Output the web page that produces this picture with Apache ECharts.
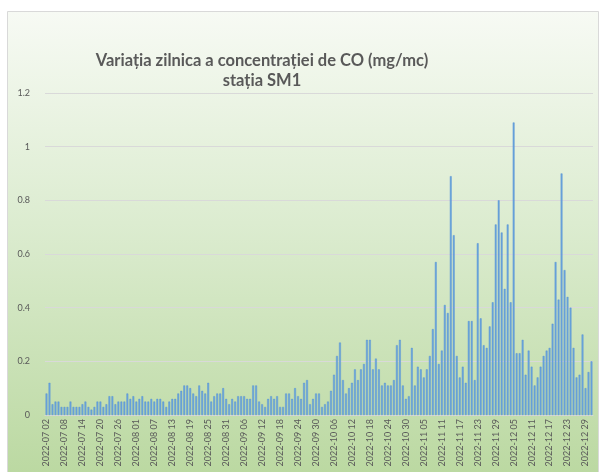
<!DOCTYPE html>
<html>
<head>
<meta charset="utf-8">
<script src="https://cdn.jsdelivr.net/npm/echarts@6/dist/echarts.min.js"></script>
<style>
    html, body {margin: 0; padding: 0; background: #fff;}
    #chartDiv {width: 603px; height: 472px;}
</style>
</head>
<body>
<div id="chartDiv"></div>
<script>
// valori zilnice CO (mg/mc), pe luni
var valJul = [0.08, 0.12, 0.04, 0.05, 0.05, 0.03, 0.03, 0.03, 0.05, 0.03, 0.03, 0.03, 0.04, 0.05, 0.03,
    0.02, 0.03, 0.05, 0.05, 0.03, 0.04, 0.07, 0.07, 0.04, 0.05, 0.05, 0.05, 0.08, 0.06, 0.07];
var valAug = [0.05, 0.06, 0.07, 0.05, 0.05, 0.06, 0.05, 0.06, 0.06, 0.05, 0.03, 0.05, 0.06, 0.06, 0.08,
    0.09, 0.11, 0.11, 0.10, 0.08, 0.07, 0.11, 0.09, 0.08, 0.12, 0.05, 0.07, 0.08, 0.08, 0.10, 0.06];
var valSep = [0.04, 0.06, 0.05, 0.07, 0.07, 0.07, 0.06, 0.06, 0.11, 0.11, 0.05, 0.04, 0.03, 0.06, 0.07,
    0.06, 0.07, 0.03, 0.03, 0.08, 0.08, 0.06, 0.10, 0.07, 0.06, 0.12, 0.13, 0.04, 0.06, 0.08];
var valOct = [0.08, 0.03, 0.04, 0.05, 0.09, 0.15, 0.22, 0.27, 0.13, 0.08, 0.10, 0.12, 0.17, 0.13, 0.17,
    0.19, 0.28, 0.28, 0.17, 0.21, 0.17, 0.11, 0.12, 0.11, 0.11, 0.13, 0.26, 0.28, 0.11, 0.06, 0.07];
var valNov = [0.25, 0.11, 0.18, 0.17, 0.14, 0.17, 0.22, 0.32, 0.57, 0.19, 0.24, 0.41, 0.38, 0.89, 0.67,
    0.22, 0.14, 0.18, 0.12, 0.35, 0.35, 0.13, 0.64, 0.36, 0.26, 0.25, 0.33, 0.42, 0.71, 0.80];
var valDec = [0.68, 0.47, 0.71, 0.42, 1.09, 0.23, 0.23, 0.28, 0.15, 0.24, 0.18, 0.11, 0.14, 0.18, 0.22,
    0.24, 0.25, 0.34, 0.57, 0.43, 0.90, 0.54, 0.44, 0.40, 0.25, 0.14, 0.15, 0.30, 0.10, 0.16, 0.20];
var yTicks = [0, 0.2, 0.4, 0.6, 0.8, 1, 1.2];

var values = [].concat(valJul, valAug, valSep, valOct, valNov, valDec);

// etichete zile 2022-07-02 ... 2022-12-31
function buildDays(n) {
    var days = [];
    var d = new Date(Date.UTC(2022, 6, 2));
    for (var i = 0; i < n; i++) {
        var m = ('0' + (d.getUTCMonth() + 1)).slice(-2);
        var z = ('0' + d.getUTCDate()).slice(-2);
        days.push(d.getUTCFullYear() + '-' + m + ' ' + z);
        d.setUTCDate(d.getUTCDate() + 1);
    }
    return days;
}
var days = buildDays(values.length);

var chartDiv = echarts.init(document.getElementById('chartDiv'));
var option = {
    animation: false,
    backgroundColor: '#ffffff',
    graphic: [{
        type: 'rect',
        z: -10,
        shape: {x: 7.5, y: 11.5, width: 591, height: 470},
        style: {
            fill: new echarts.graphic.LinearGradient(0, 0, 0, 1, [
                {offset: 0, color: '#f7faf4'},
                {offset: 0.45, color: '#dcecd0'},
                {offset: 1, color: '#bad8a0'}
            ]),
            stroke: '#d9d9d9',
            lineWidth: 1
        }
    }],
    title: {
        text: 'Variația zilnica a concentrației de CO (mg/mc)\nstația SM1',
        left: 257,
        top: 46,
        textAlign: 'center',
        textStyle: {
            fontFamily: 'Lato',
            fontWeight: 'bold',
            fontSize: 16.5,
            color: '#595959',
            lineHeight: 20
        }
    },
    grid: {left: 45, right: 10, top: 93, bottom: 57},
    xAxis: {
        type: 'category',
        data: days,
        axisLine: {show: true, lineStyle: {color: '#d9d9d9'}},
        axisTick: {show: false},
        axisLabel: {
            interval: 5,
            rotate: 90,
            fontFamily: 'Lato',
            fontSize: 9,
            color: '#595959',
            margin: 4
        }
    },
    yAxis: {
        type: 'value',
        min: yTicks[0],
        max: yTicks[yTicks.length - 1],
        interval: 0.2,
        axisLine: {show: false},
        axisTick: {show: false},
        splitLine: {lineStyle: {color: '#d9d9d9', width: 1}},
        axisLabel: {
            fontFamily: 'Lato',
            fontSize: 9,
            color: '#595959',
            margin: 15,
            formatter: function (v) {
                return String(Math.round(v * 10) / 10);
            }
        }
    },
    series: [{
        type: 'bar',
        name: 'CO',
        data: values,
        barCategoryGap: '40%',
        itemStyle: {color: '#6fa7dc', borderColor: '#4a8bd3', borderWidth: 0.4}
    }]
};
chartDiv.setOption(option);
</script>
</body>
</html>
